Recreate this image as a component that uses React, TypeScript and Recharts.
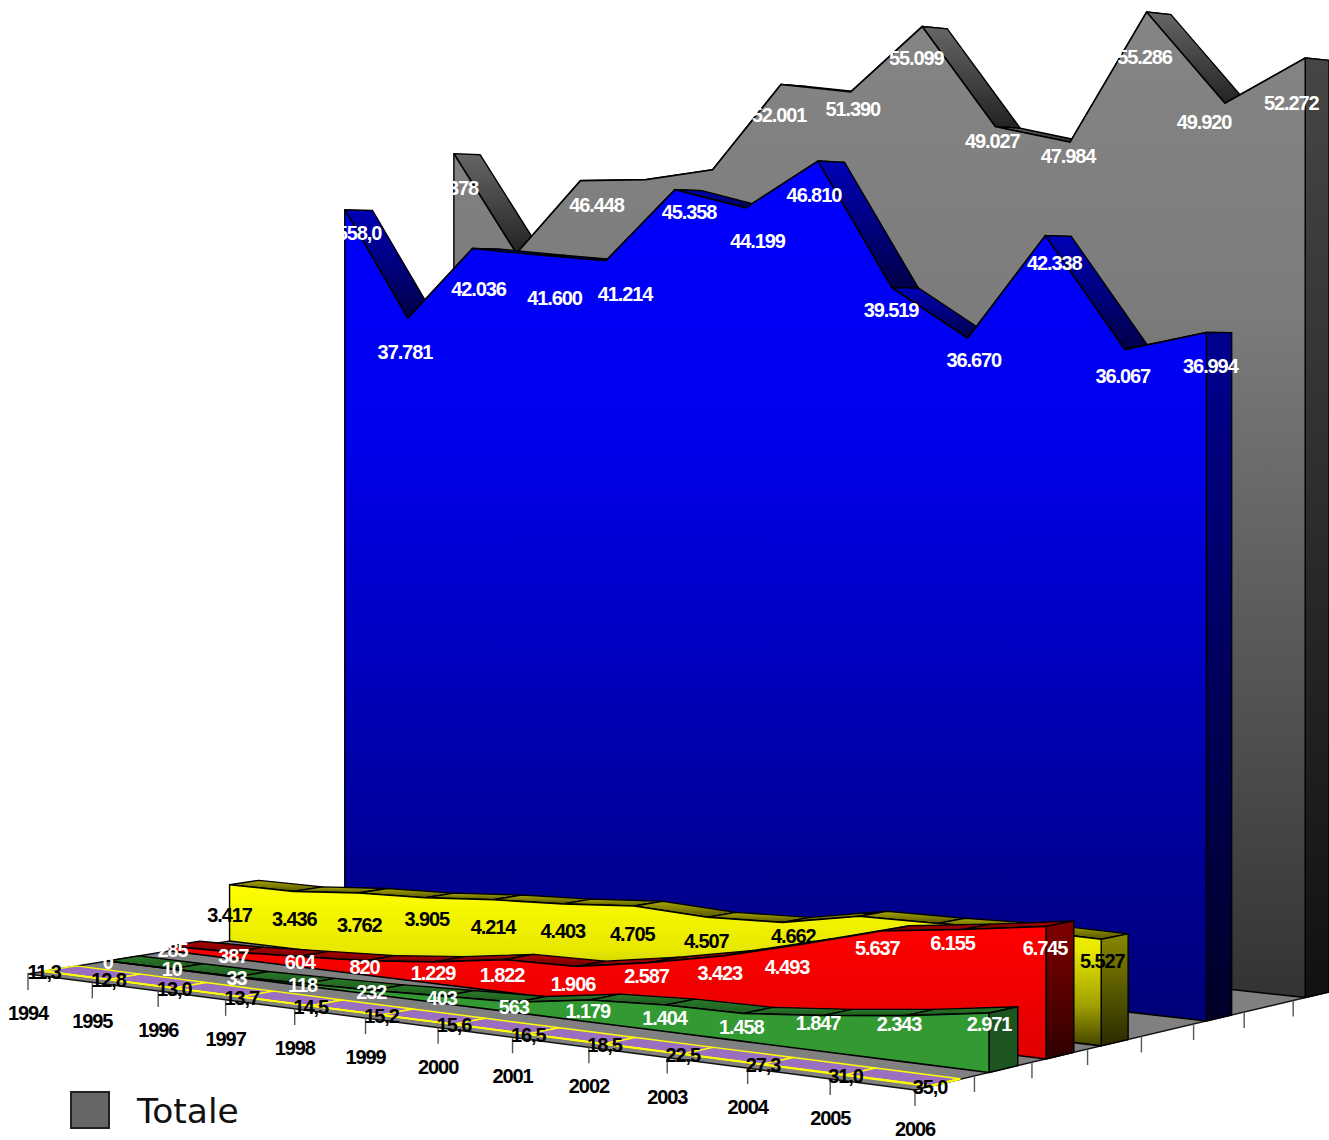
import { Area, ComposedChart, Scatter, XAxis, YAxis } from "recharts";

const WIDTH = 1329;
const HEIGHT = 1140;

// Values; the ones hidden behind a nearer series are estimates
const years = ["1994", "1995", "1996", "1997", "1998", "1999", "2000", "2001", "2002", "2003", "2004", "2005", "2006"];
const totale = [48378, 41900, 46448, 46414, 46930, 52001, 51390, 55099, 49027, 47984, 55286, 49920, 52272];
const blueValues = [44558, 37781, 42036, 41600, 41214, 45358, 44199, 46810, 39519, 36670, 42338, 36067, 36994];
const yellowValues = [3417, 3436, 3762, 3905, 4214, 4403, 4705, 4507, 4662, 5430, 5480, 5600, 5527];
const redValues = [285, 387, 604, 820, 1229, 1822, 1906, 2587, 3423, 4493, 5637, 6155, 6745];
const greenValues = [0, 10, 33, 118, 232, 403, 563, 1179, 1404, 1458, 1847, 2343, 2971];
const purpleValues = [11.3, 12.8, 13.0, 13.7, 14.5, 15.2, 15.6, 16.5, 18.5, 22.5, 27.3, 31.0, 35.0];

// Where each value label sits relative to its point, in pixels
const totaleShift = [[-3, 34], [0, 90], [16, 24], [0, 150], [0, 150], [-2, 31], [2, 17], [-6, 31], [-3, 14], [-2, 14], [-2, 45], [-21, 19], [-14, 45]];
const blueShift = [[2, 23], [-3, 34], [6, 40], [16, 43], [19, 33], [14, 22], [12, 33], [-4, 34], [-1, 22], [6, 22], [9, 27], [-2, 27], [4, 33]];
const yellowShift = [[0, 30], [1, 28], [1, 32], [2, 21], [0, 27], [0, 27], [-2, 28], [-1, 24], [11, 14], [0, 60], [0, 60], [0, 60], [1, 22]];
const redShift = [[3, 4], [0, 4], [1, 6], [-1, 6], [-1, 11], [-2, 15], [-3, 17], [-3, 13], [-5, 17], [-15, 23], [-4, 17], [-10, 14], [-1, 22]];
const greenShift = [[0, 1], [0, 0], [-1, 1], [-2, 1], [-2, 2], [-2, 2], [-2, 5], [-2, 11], [-1, 13], [-2, 14], [-5, 7], [-6, 8], [0, 11]];

const dotted = (v: number) => String(v).replace(/\B(?=(\d{3})+$)/g, ".");
const comma = (v: number) => v.toFixed(1).replace(".", ",");

// Back to front. bin = slot on the depth axis (8 slots, two of them empty)
const seriesList = [
  { key: "totale", values: totale, bin: 7, shift: totaleShift, text: "#fff", format: dotted, edge: "#000", faceStops: [[0, "#858585"], [0.3, "#7c7c7c"], [1, "#333333"]], top: ["#666666", "#222222"], side: ["#464646", "#111111"] },
  { key: "blue", values: blueValues, bin: 5, shift: blueShift, text: "#fff", format: dotted, edge: "#000", faceStops: [[0, "#0000ff"], [0.3, "#0000f0"], [0.6, "#0000bb"], [0.85, "#000090"], [1, "#000078"]], top: ["#0000b8", "#000048"], side: ["#000090", "#000028"] },
  { key: "yellow", values: yellowValues, bin: 3, shift: yellowShift, text: "#000", format: dotted, edge: "#000", faceStops: [[0, "#ffff00"], [0.4, "#e8e800"], [0.75, "#a0a000"], [1, "#454500"]], top: ["#a8a800", "#555500"], side: ["#888800", "#2a2a00"] },
  { key: "red", values: redValues, bin: 2, shift: redShift, text: "#fff", format: dotted, edge: "#000", faceStops: [[0, "#ff0000"], [1, "#e00000"]], top: ["#b00000", "#700000"], side: ["#800000", "#300000"] },
  { key: "green", values: greenValues, bin: 1, shift: greenShift, text: "#fff", format: dotted, edge: "#000", faceStops: [[0, "#339933"], [1, "#339933"]], top: ["#2a7a2a", "#1e5a1e"], side: ["#1c5520", "#1c5520"] },
  { key: "purple", values: purpleValues, bin: 0, shift: purpleValues.map(() => [0, 1]), text: "#000", format: comma, edge: "#ffff00", faceStops: [[0, "#9b6fc0"], [1, "#9b6fc0"]], top: ["#9b6fc0", "#9b6fc0"], side: ["#ffff00", "#ffff00"] },
];

// Perspective of the floor: s runs along the years, t into the depth
function project(i: number, t: number, v: number) {
  const s = i / 12;
  const w = 1 - 0.14 * s + 0.117 * t;
  const x = (758.9 * s + 523 * t + 28) / w;
  const base = (-36.6 * s + 29 * t + 974) / w;
  const y = base - v / (57.55 - 8.8 * s + 7.6 * t);
  return { x, y, base };
}

const pts = (list: { x: number; y: number }[]) => list.map((p) => `${p.x},${p.y}`).join(" ");

const labelFont = { fontFamily: "Liberation Sans", fontSize: 20, fontWeight: 700, letterSpacing: -1.1 };

const PolyShape = (p: any) => {
  const d = p.payload;
  return <polygon points={d.points} fill={d.fill} stroke={d.stroke} strokeWidth={d.width ?? 1.4} strokeLinejoin="round" />;
};
const LineShape = (p: any) => {
  const d = p.payload;
  return <line x1={d.x} y1={d.y} x2={d.x2} y2={d.y2} stroke={d.stroke} strokeWidth={d.width ?? 1.4} />;
};
const TextShape = (p: any) => {
  const d = p.payload;
  return (
    <text x={d.x} y={d.y} fill={d.fill} textAnchor="middle" dominantBaseline="central" stroke="none" {...labelFont}>
      {d.text}
    </text>
  );
};

function floorRows() {
  const corners = [project(0, 0, 0), project(12, 0, 0), project(12, 1, 0), project(0, 1, 0)];
  return [{ x: corners[0].x, y: corners[0].y, points: pts(corners), fill: "#808080", stroke: "#111" }];
}

function tickRows() {
  const rows: any[] = [];
  years.forEach((_, i) => {
    const p = project(i, 0, 0);
    rows.push({ x: p.x, y: p.y, x2: p.x, y2: p.y + 16, stroke: "#555" });
  });
  for (let k = 1; k < 8; k++) {
    const p = project(12, k / 8, 0);
    rows.push({ x: p.x, y: p.y, x2: p.x, y2: p.y + 16, stroke: "#555" });
  }
  return rows;
}

function yearRows() {
  return years.map((year, i) => {
    const p = project(i, 0, 0);
    return { x: p.x, y: p.y + 39, text: year, fill: "#000" };
  });
}

function topRows(s: (typeof seriesList)[number]) {
  const front = s.bin / 8 + 1 / 32;
  const back = s.bin / 8 + 3 / 32;
  return s.values.slice(0, -1).map((v, i) => {
    const a = project(i, front, v);
    const b = project(i + 1, front, s.values[i + 1]);
    const c = project(i + 1, back, s.values[i + 1]);
    const d = project(i, back, v);
    return { x: a.x, y: a.y, points: pts([a, b, c, d]), fill: `url(#top-${s.key})`, stroke: s.edge };
  });
}

function sideRows(s: (typeof seriesList)[number]) {
  const front = s.bin / 8 + 1 / 32;
  const back = s.bin / 8 + 3 / 32;
  const v = s.values[12];
  const a = project(12, front, v);
  const b = project(12, back, v);
  const c = project(12, back, 0);
  const d = project(12, front, 0);
  return [{ x: a.x, y: a.y, points: pts([a, b, c, d]), fill: `url(#side-${s.key})`, stroke: s.edge }];
}

function faceRows(s: (typeof seriesList)[number]) {
  const front = s.bin / 8 + 1 / 32;
  return s.values.map((v, i) => {
    const p = project(i, front, v);
    return { x: p.x, band: [p.y, p.base] };
  });
}

function edgeRows(s: (typeof seriesList)[number]) {
  const front = s.bin / 8 + 1 / 32;
  return [0, 12].map((i) => {
    const p = project(i, front, s.values[i]);
    return { x: p.x, y: p.y, x2: p.x, y2: p.base, stroke: s.edge };
  });
}

function labelRows(s: (typeof seriesList)[number]) {
  const front = s.bin / 8 + 1 / 32;
  return s.values.map((v, i) => {
    const p = project(i, front, v);
    let text = s.format(v);
    if (s.key === "blue" && i === 0) text += ",0"; // the first blue label carries a decimal in the original
    return { x: p.x + s.shift[i][0], y: p.y + s.shift[i][1], text, fill: s.text };
  });
}

export default function App() {
  let z = 1;
  return (
    <div style={{ position: "absolute", left: 0, top: 0, width: WIDTH, height: HEIGHT, overflow: "hidden" }}>
      <ComposedChart width={WIDTH} height={HEIGHT} margin={{ top: 0, right: 0, bottom: 0, left: 0 }}>
        <defs>
          {seriesList.map((s) => (
            <g key={s.key}>
              <linearGradient id={`face-${s.key}`} x1="0" y1="0" x2="0" y2="1">
                {s.faceStops.map(([o, c]) => (
                  <stop key={String(o)} offset={o as number} stopColor={c as string} />
                ))}
              </linearGradient>
              <linearGradient id={`top-${s.key}`} x1="0" y1="0" x2="0" y2="1">
                <stop offset={0} stopColor={s.top[0]} />
                <stop offset={1} stopColor={s.top[1]} />
              </linearGradient>
              <linearGradient id={`side-${s.key}`} x1="0" y1="0" x2="0" y2="1">
                <stop offset={0} stopColor={s.side[0]} />
                <stop offset={1} stopColor={s.side[1]} />
              </linearGradient>
            </g>
          ))}
        </defs>
        <XAxis type="number" dataKey="x" domain={[0, WIDTH]} hide />
        <YAxis type="number" dataKey="y" domain={[0, HEIGHT]} reversed hide />

        <Scatter data={floorRows()} shape={PolyShape} isAnimationActive={false} zIndex={z++} />
        <Scatter data={tickRows()} shape={LineShape} isAnimationActive={false} zIndex={z++} />

        {seriesList.flatMap((s) => [
          <Scatter key={`${s.key}-top`} data={topRows(s)} shape={PolyShape} isAnimationActive={false} zIndex={z++} />,
          <Scatter key={`${s.key}-side`} data={sideRows(s)} shape={PolyShape} isAnimationActive={false} zIndex={z++} />,
          <Area
            key={`${s.key}-face`}
            data={faceRows(s)}
            dataKey="band"
            type="linear"
            fill={`url(#face-${s.key})`}
            fillOpacity={1}
            stroke={s.edge}
            strokeWidth={1.6}
            dot={false}
            activeDot={false}
            isAnimationActive={false}
            zIndex={z++}
          />,
          <Scatter key={`${s.key}-edge`} data={edgeRows(s)} shape={LineShape} isAnimationActive={false} zIndex={z++} />,
          <Scatter key={`${s.key}-labels`} data={labelRows(s)} shape={TextShape} isAnimationActive={false} zIndex={z++} />,
        ])}

        <Scatter data={yearRows()} shape={TextShape} isAnimationActive={false} zIndex={z++} />
      </ComposedChart>

      <div style={{ position: "absolute", left: 70, top: 1091, width: 36, height: 34, background: "#666", border: "2px solid #222" }} />
      <div style={{ position: "absolute", left: 137, top: 1091, fontFamily: "DejaVu Sans", fontSize: 34.5, lineHeight: "40px", color: "#111" }}>
        Totale
      </div>
    </div>
  );
}
